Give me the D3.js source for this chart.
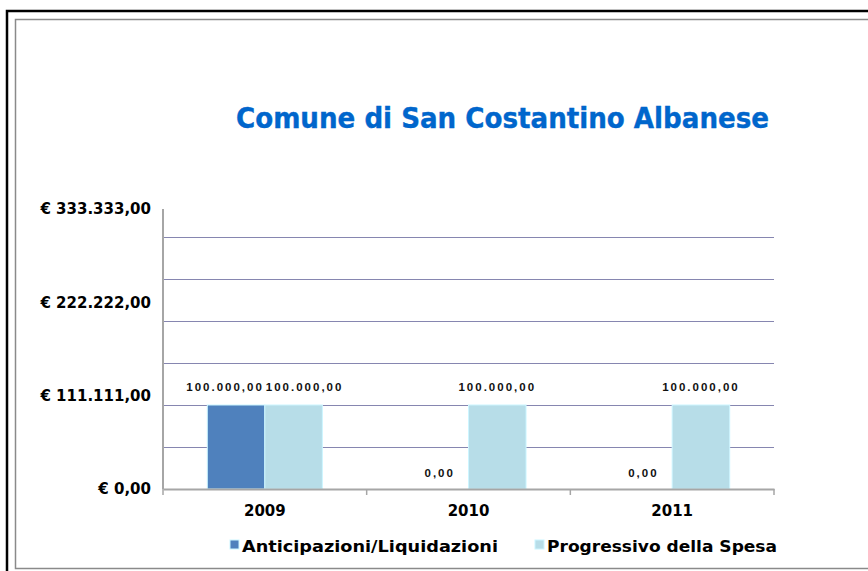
<!DOCTYPE html>
<html lang="it">

<head>
  <meta charset="UTF-8">
  <title>Comune di San Costantino Albanese</title>
  <style>
    body { margin: 0; background: #fff; }
    svg text { font-family: "DejaVu Sans", Verdana, sans-serif; font-weight: bold; }
  </style>
</head>

<body>
  <script src="https://cdnjs.cloudflare.com/ajax/libs/d3/7.8.5/d3.min.js"></script>
  <script>
    const years = ['2009', '2010', '2011']
    const seriesNames = ['Anticipazioni/Liquidazioni', 'Progressivo della Spesa']
    const anticipazioni = [100000, 0, 0]
    const progressivo = [100000, 100000, 100000]
    const yTickValues = [0, 111111, 222222, 333333]
    const yTickLabels = ['€ 0,00', '€ 111.111,00', '€ 222.222,00', '€ 333.333,00']
    const gridValues = [50000, 100000, 150000, 200000, 250000, 300000]

    const width = 868
    const height = 571
    const colors = ['#4f81bd', '#b7dde8']

    const svg = d3.select('body')
      .append('svg')
      .attr('width', width)
      .attr('height', height)

    // cornice
    svg.append('rect')
      .attr('x', 7).attr('y', 11)
      .attr('width', width + 20).attr('height', height + 20)
      .attr('fill', 'none').attr('stroke', '#000').attr('stroke-width', 2.5)
    svg.append('rect')
      .attr('x', 15.5).attr('y', 19.5)
      .attr('width', width + 20).attr('height', 549)
      .attr('fill', 'none').attr('stroke', '#8a8a8a').attr('stroke-width', 1.5)

    // titolo
    svg.append('text')
      .attr('x', 236).attr('y', 128)
      .attr('textLength', 533).attr('lengthAdjust', 'spacingAndGlyphs')
      .attr('font-size', 28)
      .attr('fill', '#0066cc')
      .attr('stroke', '#0066cc').attr('stroke-width', 0.4)
      .text('Comune di San Costantino Albanese')

    const plot = { left: 163, right: 774, top: 209, bottom: 489 }

    const x0 = d3.scaleBand()
      .domain(years)
      .range([plot.left, plot.right])

    const x1 = d3.scaleBand()
      .domain(d3.range(seriesNames.length))
      .range([0, x0.bandwidth()])
      .paddingOuter(0.77)
      .paddingInner(0)

    const y = d3.scaleLinear()
      .domain([0, 333333])
      .range([plot.bottom, plot.top])

    // griglia
    svg.append('g')
      .selectAll('line')
      .data(gridValues)
      .enter()
      .append('line')
      .attr('x1', plot.left).attr('x2', plot.right)
      .attr('y1', d => Math.round(y(d)) + 0.5).attr('y2', d => Math.round(y(d)) + 0.5)
      .attr('stroke', '#8686b0').attr('stroke-width', 1)

    // barre
    const data = years.map((yr, i) => ({ year: yr, values: [anticipazioni[i], progressivo[i]] }))

    const groups = svg.selectAll('.group')
      .data(data)
      .enter()
      .append('g')
      .attr('class', 'group')
      .attr('transform', d => `translate(${x0(d.year)},0)`)

    groups.selectAll('rect')
      .data(d => d.values.map((v, k) => ({ v, k })))
      .enter()
      .append('rect')
      .attr('x', d => x1(d.k))
      .attr('y', d => y(d.v))
      .attr('width', x1.bandwidth())
      .attr('height', d => y(0) - y(d.v))
      .attr('fill', d => colors[d.k])
      .attr('stroke', '#ccf5ff')
      .attr('stroke-width', 1)

    // etichette dei valori
    const fmt = v => d3.format(',.2f')(v).replace(/,/g, '#').replace('.', ',').replace(/#/g, '.')

    groups.each(function (d) {
      const g = d3.select(this)
      const labels = d.values.map((v, k) => {
        const t = g.append('text')
          .attr('text-anchor', 'middle')
          .attr('font-size', 11.5)
          .attr('letter-spacing', 2)
          .style('font-family', 'Arial, "Liberation Sans", sans-serif')
          .attr('fill', '#111')
          .attr('x', x1(k) + x1.bandwidth() / 2)
          .attr('y', y(v) - (v > 0 ? 14 : 12))
          .text(fmt(v))
        return { t, k, cx: x1(k) + x1.bandwidth() / 2, w: t.node().getComputedTextLength(), v }
      })
      // allontana etichette sovrapposte
      const a = labels[0], b = labels[1]
      if (a.v === b.v) {
        const overlap = (a.cx + a.w / 2) - (b.cx - b.w / 2)
        if (overlap > 0) {
          a.t.attr('x', a.cx - overlap / 2 - 1)
          b.t.attr('x', b.cx + overlap / 2 + 1)
        }
      }
    })

    // asse y
    svg.append('line')
      .attr('x1', plot.left).attr('x2', plot.left)
      .attr('y1', plot.top).attr('y2', plot.bottom)
      .attr('stroke', '#a6a6a6').attr('stroke-width', 2)

    svg.append('g')
      .selectAll('text')
      .data(yTickValues)
      .enter()
      .append('text')
      .attr('x', 151)
      .attr('y', d => y(d))
      .attr('dy', '0.36em')
      .attr('text-anchor', 'end')
      .attr('font-size', 15)
      .attr('fill', '#000')
      .text((d, i) => yTickLabels[i])

    // asse x
    const xAxis = d3.axisBottom(x0).tickSize(0).tickPadding(16)
    const gx = svg.append('g')
      .attr('transform', `translate(0,${plot.bottom})`)
      .call(xAxis)
    gx.select('.domain').attr('stroke', '#a6a6a6').attr('stroke-width', 2)
    gx.selectAll('text')
      .attr('font-size', 15)
      .attr('fill', '#000')
      .style('font-family', '"DejaVu Sans", Verdana, sans-serif')
      .style('font-weight', 'bold')

    gx.selectAll('.sep')
      .data(years.map(yr => x0(yr)).concat([plot.right]))
      .enter()
      .append('line')
      .attr('x1', d => d).attr('x2', d => d)
      .attr('y1', 0).attr('y2', 6)
      .attr('stroke', '#a6a6a6').attr('stroke-width', 1.5)

    // legenda
    const legendX = [230, 535]
    const legendLen = [256, 230]
    const legend = svg.selectAll('.legend')
      .data(seriesNames)
      .enter()
      .append('g')
      .attr('class', 'legend')
      .attr('transform', (d, i) => `translate(${legendX[i]},540)`)

    legend.append('rect')
      .attr('width', 9).attr('height', 9)
      .attr('fill', (d, i) => colors[i])
      .attr('stroke', '#ccf5ff').attr('stroke-width', 1)

    legend.append('text')
      .attr('x', 12).attr('y', 12)
      .attr('font-size', 16)
      .attr('textLength', (d, i) => legendLen[i])
      .attr('lengthAdjust', 'spacingAndGlyphs')
      .attr('fill', '#000')
      .text(d => d)
  </script>
</body>

</html>
